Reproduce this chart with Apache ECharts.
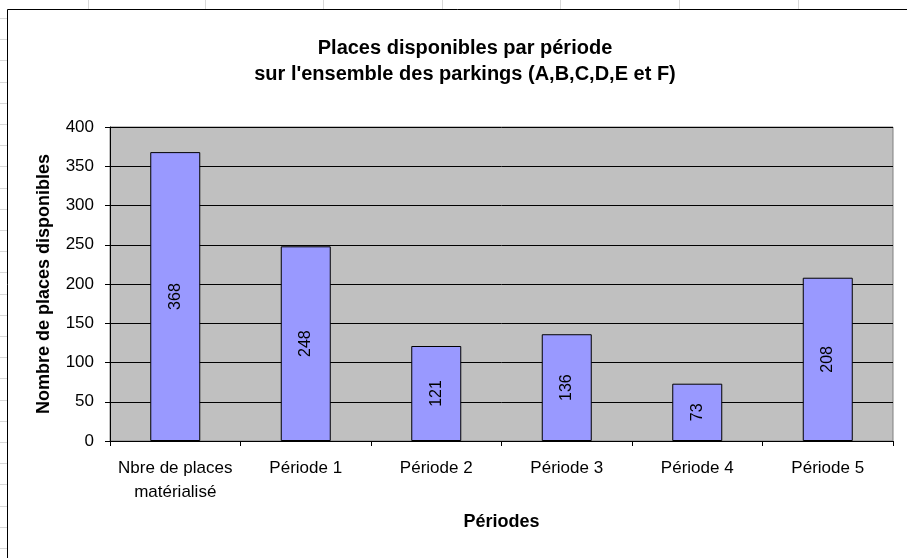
<!DOCTYPE html>
<html>
<head>
<meta charset="utf-8">
<script src="https://cdn.jsdelivr.net/npm/echarts@6/dist/echarts.min.js"></script>
<style>
    html, body { margin: 0; padding: 0; background: #fff; }
    #chart { width: 907px; height: 558px; }
</style>
</head>
<body>
<div id="chart"></div>
<script>
var categories = ['Nbre de places\nmatérialisé', 'Période 1', 'Période 2', 'Période 3', 'Période 4', 'Période 5'];
var places = [368, 248, 121, 136, 73, 208];
var yTicks = { min: 0, max: 400, step: 50 };

var chartMgr = {

    sheetLines: function () {
        // quadrillage du tableur visible autour du graphique
        var items = [];
        var cols = [88, 205, 323, 442, 560, 679, 798];
        cols.forEach(function (x) {
            items.push({ type: 'line', shape: { x1: x + 0.5, y1: 0, x2: x + 0.5, y2: 9 }, style: { stroke: '#d8d8d8', lineWidth: 1 } });
        });
        for (var y = 18; y < 558; y += 21.2) {
            var yy = Math.round(y) + 0.5;
            items.push({ type: 'line', shape: { x1: 0, y1: yy, x2: 7, y2: yy }, style: { stroke: '#d8d8d8', lineWidth: 1 } });
        }
        // cadre de la zone de graphique
        items.push({ type: 'rect', shape: { x: 7.5, y: 9.5, width: 920, height: 600 }, style: { fill: 'none', stroke: '#000', lineWidth: 1 }, z: 10 });
        return items;
    },

    init: function () {
        var myChart = echarts.init(document.getElementById('chart'));
        var font = 'Liberation Sans, Arial, sans-serif';

        var option = {
            animation: false,
            textStyle: { fontFamily: font, color: '#000' },
            title: {
                text: 'Places disponibles par période\nsur l\'ensemble des parkings (A,B,C,D,E et F)',
                left: 460,
                top: 30,
                textAlign: 'center',
                textStyle: {
                    fontFamily: font,
                    fontSize: 20,
                    fontWeight: 'bold',
                    color: '#000',
                    lineHeight: 26
                }
            },
            graphic: chartMgr.sheetLines(),
            grid: {
                left: 110,
                right: 14,
                top: 127,
                bottom: 117,
                show: true,
                backgroundColor: '#C0C0C0',
                borderColor: '#808080',
                borderWidth: 1
            },
            xAxis: {
                type: 'category',
                data: categories,
                name: 'Périodes',
                nameLocation: 'middle',
                nameGap: 72,
                nameTextStyle: { fontFamily: font, fontSize: 18, fontWeight: 'bold', color: '#000' },
                axisLine: { lineStyle: { color: '#000', width: 1 } },
                axisTick: { show: true, length: 5, lineStyle: { color: '#000' } },
                axisLabel: { interval: 0, fontSize: 17, color: '#000', lineHeight: 24, margin: 15 },
                splitLine: { show: false }
            },
            yAxis: {
                type: 'value',
                min: yTicks.min,
                max: yTicks.max,
                interval: yTicks.step,
                name: 'Nombre de places disponibles',
                nameLocation: 'middle',
                nameGap: 57,
                nameTextStyle: { fontFamily: font, fontSize: 18, fontWeight: 'bold', color: '#000' },
                axisLine: { show: true, lineStyle: { color: '#000', width: 1 } },
                axisTick: { show: true, length: 5, lineStyle: { color: '#000' } },
                axisLabel: { fontSize: 17, color: '#000', margin: 16 },
                splitLine: { lineStyle: { color: '#000', width: 1 } }
            },
            series: [
                {
                    type: 'bar',
                    data: places,
                    barWidth: 50,
                    itemStyle: {
                        color: '#9999FF',
                        borderColor: '#000',
                        borderWidth: 1
                    },
                    label: {
                        show: true,
                        position: 'inside',
                        rotate: 90,
                        fontFamily: font,
                        fontSize: 16,
                        color: '#000'
                    }
                }
            ]
        };

        myChart.setOption(option);
    }
};

chartMgr.init();
</script>
</body>
</html>
